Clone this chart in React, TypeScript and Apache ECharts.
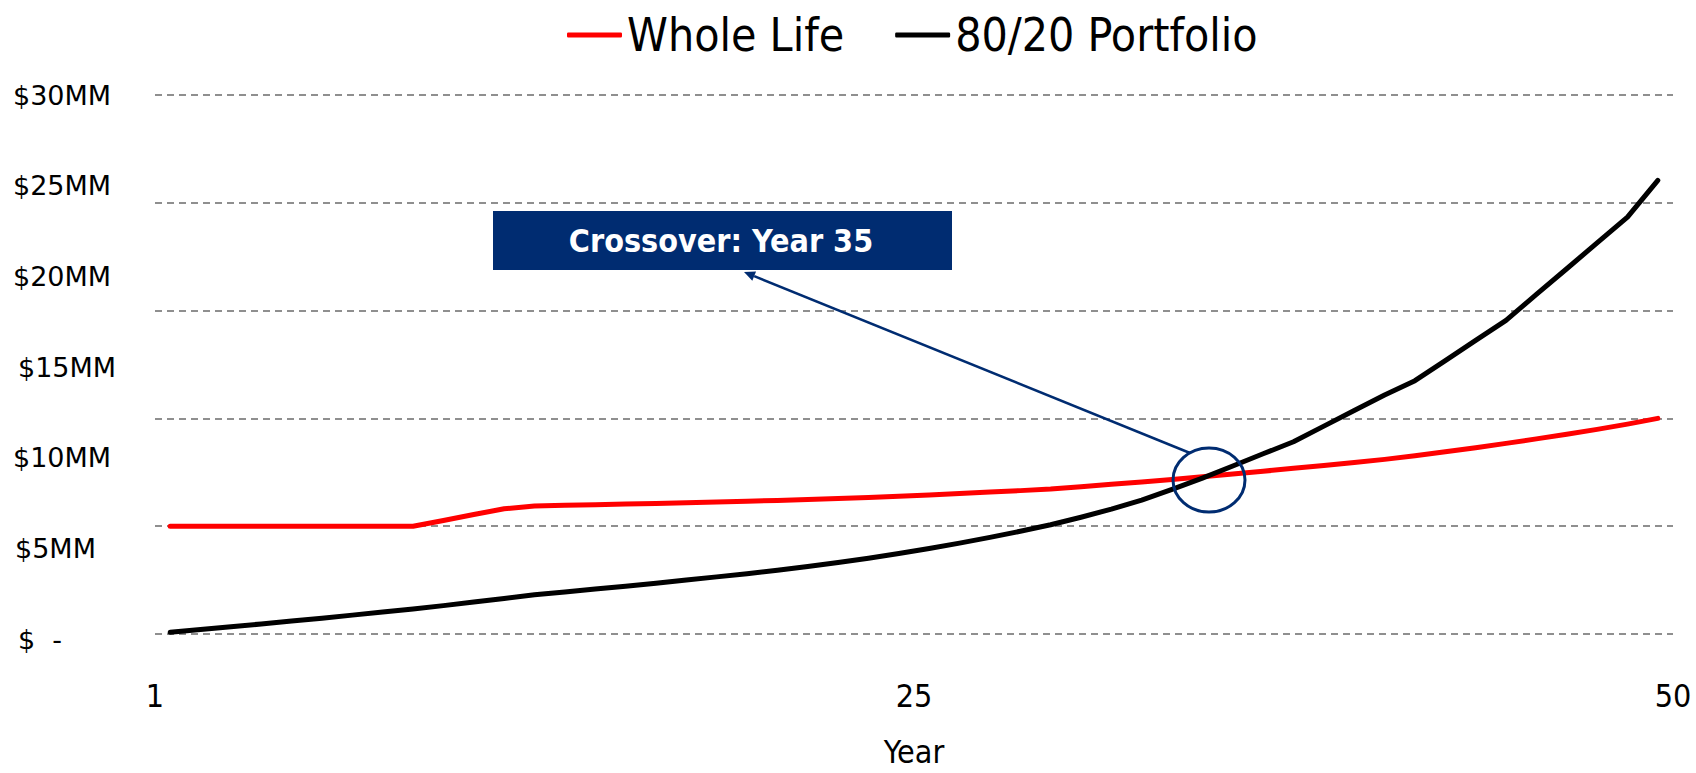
import React, { useEffect, useRef } from "react";
import * as echarts from "echarts";

const years: string[] = Array.from({ length: 50 }, (_, i) => String(i + 1));

const wholeLife: number[] = [
  6.0, 6.0, 6.0, 6.0, 6.0, 6.0, 6.0, 6.0, 6.0, 6.32,
  6.65, 6.97, 7.13, 7.16, 7.19, 7.23, 7.27, 7.31, 7.35, 7.39,
  7.43, 7.48, 7.54, 7.6, 7.67, 7.74, 7.82, 7.9, 7.98, 8.07,
  8.2, 8.33, 8.46, 8.6, 8.75, 8.9, 9.06, 9.22, 9.38, 9.55,
  9.72, 9.92, 10.14, 10.37, 10.61, 10.86, 11.12, 11.39, 11.68, 12.0,
];

const portfolio8020: number[] = [
  0.1, 0.25, 0.4, 0.56, 0.72, 0.88, 1.05, 1.22, 1.39, 1.58,
  1.78, 1.98, 2.19, 2.34, 2.5, 2.66, 2.83, 3.01, 3.18, 3.35,
  3.55, 3.76, 3.98, 4.22, 4.48, 4.76, 5.06, 5.38, 5.72, 6.08,
  6.5, 6.95, 7.45, 8.05, 8.68, 9.35, 10.03, 10.7, 11.57, 12.44,
  13.3, 14.1, 15.22, 16.34, 17.46, 18.9, 20.33, 21.77, 23.2, 25.25,
];

const xTickLabels: string[] = ["1", "25", "50"];
const yLabelValues: number[] = [0, 5, 10, 15, 20, 25, 30];
const seriesNames: string[] = ["Whole Life", "80/20 Portfolio"];
const annotationText = "Crossover: Year 35";

const NARROW = "'DejaVu Sans Condensed', 'DejaVu Sans', sans-serif";
const WIDE = "'DejaVu Sans', Verdana, sans-serif";
const NAVY = "#002C71";

// per-label nudges so the labels sit like the reference's text boxes
const yLabelLeftPad: Record<number, number> = { 0: 5, 5: 2, 10: 0, 15: 5, 20: 0, 25: 0, 30: 0 };

function buildRich() {
  const rich: Record<string, any> = {};
  yLabelValues.forEach((v) => {
    const down = ((30 - v) / 30) * 5;
    rich["a" + v] = {
      fontSize: 27,
      fontFamily: WIDE,
      color: "#000",
      padding: [down * 2, 0, 0, yLabelLeftPad[v] || 0],
    };
  });
  return rich;
}

export default function App() {
  const ref = useRef<HTMLDivElement>(null);

  useEffect(() => {
    if (!ref.current) return;
    const chart = echarts.init(ref.current, undefined, { renderer: "svg" });

    const ax = 744, ay = 272;
    const bx = 1190, by = 453;
    const dx = bx - ax, dy = by - ay;
    const len = Math.sqrt(dx * dx + dy * dy);
    const ux = dx / len, uy = dy / len;
    const hl = 11, hw = 5;
    const baseX = ax + ux * hl, baseY = ay + uy * hl;

    chart.setOption({
      animation: false,
      backgroundColor: "#ffffff",
      legend: {
        data: seriesNames,
        left: 562,
        top: 7,
        icon: "roundRect",
        itemWidth: 55,
        itemHeight: 5,
        itemGap: 51,
        textStyle: { fontSize: 46, fontFamily: NARROW, color: "#000" },
      },
      grid: { left: 155, right: 23, top: 95, bottom: 132, containLabel: false },
      xAxis: [
        {
          type: "category",
          data: years,
          boundaryGap: true,
          axisLine: { show: false },
          axisTick: { show: false },
          axisLabel: { show: false },
          splitLine: { show: false },
        },
        {
          type: "value",
          position: "bottom",
          min: 0,
          max: 2,
          interval: 1,
          axisLine: { show: false },
          axisTick: { show: false },
          splitLine: { show: false },
          axisLabel: {
            formatter: (v: number) => xTickLabels[Math.round(v)] ?? "",
            fontSize: 32,
            fontFamily: NARROW,
            color: "#000",
            margin: 46,
          },
          name: "Year",
          nameLocation: "middle",
          nameGap: 102,
          nameTextStyle: { fontSize: 32, fontFamily: NARROW, color: "#000" },
        },
      ],
      yAxis: [
        {
          type: "value",
          min: 0,
          max: 30,
          interval: 6,
          axisLine: { show: false },
          axisTick: { show: false },
          axisLabel: { show: false },
          splitLine: {
            show: true,
            lineStyle: { color: "#8f8f8f", width: 2, type: [7, 5] },
          },
        },
        {
          type: "value",
          position: "left",
          min: 0,
          max: 30,
          interval: 5,
          axisLine: { show: false },
          axisTick: { show: false },
          splitLine: { show: false },
          axisLabel: {
            formatter: (v: number) => {
              if (yLabelValues.indexOf(v) < 0) return "";
              const t = v === 0 ? "$  -" : "$" + v + "MM";
              return "{a" + v + "|" + t + "}";
            },
            rich: buildRich(),
            align: "left",
            margin: 142,
            fontSize: 27,
            fontFamily: WIDE,
            color: "#000",
          },
        },
      ],
      series: [
        {
          name: seriesNames[0],
          type: "line",
          data: wholeLife,
          xAxisIndex: 0,
          yAxisIndex: 0,
          symbol: "none",
          color: "#FF0000",
          lineStyle: { color: "#FF0000", width: 5, cap: "round", join: "round" },
          z: 3,
        },
        {
          name: seriesNames[1],
          type: "line",
          data: portfolio8020,
          xAxisIndex: 0,
          yAxisIndex: 0,
          symbol: "none",
          color: "#000000",
          lineStyle: { color: "#000000", width: 5, cap: "round", join: "round" },
          z: 4,
        },
      ],
      graphic: [
        {
          type: "rect",
          shape: { x: 493, y: 211, width: 459, height: 59 },
          style: { fill: NAVY },
          z: 10,
        },
        {
          type: "text",
          x: 721,
          y: 240.5,
          style: {
            text: annotationText,
            fill: "#ffffff",
            font: "bold 32px " + NARROW,
            align: "center",
            verticalAlign: "middle",
          },
          z: 11,
        },
        {
          type: "line",
          shape: { x1: baseX, y1: baseY, x2: bx, y2: by },
          style: { stroke: NAVY, lineWidth: 2.5 },
          z: 10,
        },
        {
          type: "polygon",
          shape: {
            points: [
              [ax, ay],
              [baseX - uy * hw, baseY + ux * hw],
              [baseX + uy * hw, baseY - ux * hw],
            ],
          },
          style: { fill: NAVY },
          z: 10,
        },
        {
          type: "ellipse",
          shape: { cx: 1209, cy: 480, rx: 36, ry: 32 },
          style: { fill: "none", stroke: NAVY, lineWidth: 3 },
          z: 10,
        },
      ],
    });

    return () => chart.dispose();
  }, []);

  return (
    <div
      ref={ref}
      style={{ position: "absolute", left: 0, top: 0, width: 1696, height: 773 }}
    />
  );
}
